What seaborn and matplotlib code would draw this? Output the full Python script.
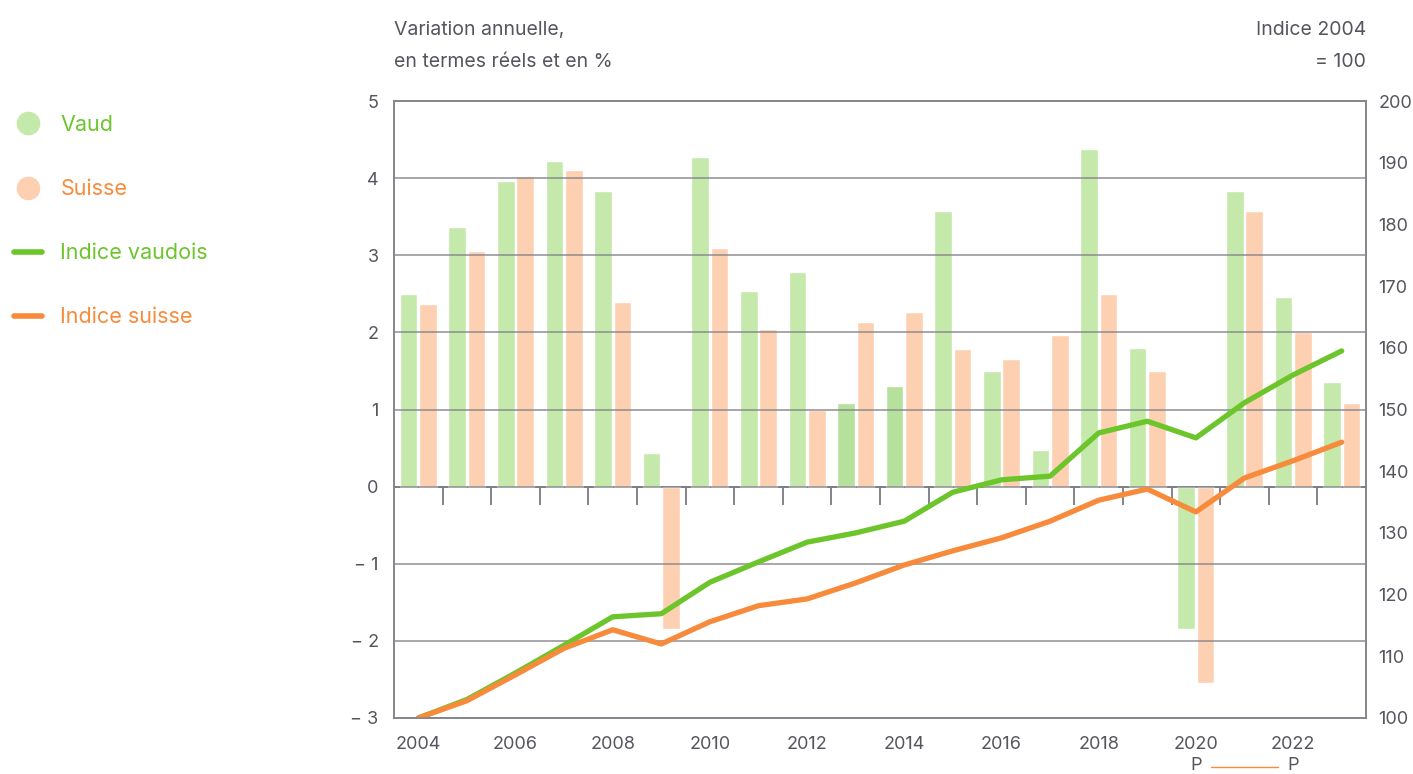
import numpy as np
import pandas as pd
import matplotlib
matplotlib.use("Agg")
import matplotlib.pyplot as plt
import matplotlib.transforms as mtransforms
from matplotlib.lines import Line2D
import seaborn as sns

# ---------------- data ----------------
years = list(range(2004, 2024))
vaud_var = [2.50, 3.36, 3.96, 4.22, 3.83, 0.44, 4.28, 2.53, 2.78, 1.08,
            1.30, 3.58, 1.50, 0.48, 4.38, 1.80, -1.85, 3.83, 2.46, 1.36]
suisse_var = [2.37, 3.06, 4.03, 4.11, 2.39, -1.85, 3.10, 2.05, 0.99, 2.14,
              2.26, 1.79, 1.66, 1.97, 2.50, 1.50, -2.55, 3.57, 2.00, 1.08]
vaud_idx = [100.0, 103.0, 107.3, 111.8, 116.4, 116.9, 122.0, 125.3, 128.5, 130.0,
            131.9, 136.6, 138.6, 139.2, 146.2, 148.1, 145.4, 151.1, 155.6, 159.5]
suisse_idx = [100.0, 102.8, 107.0, 111.3, 114.3, 112.0, 115.6, 118.2, 119.3, 121.9,
              124.8, 127.1, 129.2, 131.9, 135.3, 137.1, 133.4, 138.9, 141.7, 144.7]
highlight_years = [2013, 2014]
left_ticks = [-3, -2, -1, 0, 1, 2, 3, 4, 5]
left_labels = ["\u2212 3", "\u2212 2", "\u2212 1", "0", "1", "2", "3", "4", "5"]
right_ticks = list(range(100, 201, 10))
provisional = [2020, 2022]

# ---------------- style ----------------
sns.set_theme(style="white")
plt.rcParams["font.family"] = ["Inter", "DejaVu Sans"]

GREEN_BAR = "#c5e8ab"
GREEN_BAR_DK = "#b6e19c"
ORANGE_BAR = "#fdd0b2"
GREEN = "#6cc52b"
ORANGE = "#f78b3b"
TXT = "#55555e"
GRID = "#85858c"
TICK_FS = 13

W, H = 1413, 774
fig = plt.figure(figsize=(W / 100, H / 100), dpi=100)
ax = fig.add_axes([394 / W, 1 - 718 / H, (1366 - 394) / W, (718 - 101) / H])

df = pd.DataFrame({
    "Année": years + years,
    "Variation": vaud_var + suisse_var,
    "Région": ["Vaud"] * len(years) + ["Suisse"] * len(years),
})
sns.barplot(data=df, x="Année", y="Variation", hue="Région",
            hue_order=["Vaud", "Suisse"],
            palette={"Vaud": GREEN_BAR, "Suisse": ORANGE_BAR},
            saturation=1, width=0.8, gap=0.1, legend=False, ax=ax, zorder=1)
for yr, bar in zip(years, ax.containers[0]):
    if yr in highlight_years:
        bar.set_facecolor(GREEN_BAR_DK)

n = len(years)
pos = np.arange(n)
ax.set_xlim(-0.5, n - 0.5)
ax.set_ylim(-3, 5)
ax.set_yticks(left_ticks, left_labels)
ax.set_xticks(pos[::2], [str(y) for y in years[::2]])
ax.set_xlabel("")
ax.set_ylabel("")
ax.set_axisbelow(False)
ax.yaxis.grid(True, color=GRID, linewidth=1.2, alpha=0.85)
ax.tick_params(axis="both", length=0, labelsize=TICK_FS, labelcolor=TXT)
ax.tick_params(axis="y", pad=11)
ax.tick_params(axis="x", pad=13)
for s in ax.spines.values():
    s.set_color(GRID)
    s.set_linewidth(1.2)

# ticks at category boundaries below the zero line
sec = ax.secondary_xaxis(3 / 8)
sec.set_xticks(pos[:-1] + 0.5, [""] * (n - 1))
sec.tick_params(axis="x", direction="out", length=13, width=1.2, color="#6e6e76")
sec.spines["bottom"].set_color("#6e6e76")
sec.spines["bottom"].set_linewidth(1.4)

# index lines
ax2 = ax.twinx()
sns.lineplot(x=pos, y=vaud_idx, color=GREEN, linewidth=3.8, ax=ax2,
             solid_capstyle="round", solid_joinstyle="round")
sns.lineplot(x=pos, y=suisse_idx, color=ORANGE, linewidth=3.8, ax=ax2,
             solid_capstyle="round", solid_joinstyle="round")
ax2.set_ylim(100, 200)
ax2.set_yticks(right_ticks)
ax2.set_xlim(-0.5, n - 0.5)
ax2.tick_params(axis="y", length=0, labelsize=TICK_FS, labelcolor=TXT, pad=9)
ax2.grid(False)
for s in ax2.spines.values():
    s.set_color(GRID)
    s.set_linewidth(1.2)

# titles
fig.text(394 / W, 1 - 30 / H, "Variation annuelle,", fontsize=14, color=TXT, va="center", ha="left")
fig.text(394 / W, 1 - 62 / H, "en termes réels et en %", fontsize=14, color=TXT, va="center", ha="left")
fig.text(1366 / W, 1 - 30 / H, "Indice 2004", fontsize=14, color=TXT, va="center", ha="right")
fig.text(1366 / W, 1 - 62 / H, "= 100", fontsize=14, color=TXT, va="center", ha="right")

# provisional marks
bt = mtransforms.blended_transform_factory(ax.transData, fig.transFigure)
i0, i1 = years.index(provisional[0]), years.index(provisional[1])
for i in (i0, i1):
    ax.text(i, 1 - 765 / H, "P", transform=bt, fontsize=TICK_FS, color=TXT,
            ha="center", va="center", clip_on=False)
fig.add_artist(Line2D([i0 + 0.32, i1 - 0.32], [1 - 767 / H, 1 - 767 / H],
                      transform=bt, color=ORANGE, linewidth=1.0))

# legend
handles = [
    Line2D([], [], marker="o", linestyle="", markersize=16, color=GREEN_BAR),
    Line2D([], [], marker="o", linestyle="", markersize=16, color=ORANGE_BAR),
    Line2D([], [], color=GREEN, linewidth=4, solid_capstyle="round"),
    Line2D([], [], color=ORANGE, linewidth=4, solid_capstyle="round"),
]
labels = ["Vaud", "Suisse", "Indice vaudois", "Indice suisse"]
fig.legend(handles, labels, loc="upper left", bbox_to_anchor=(14 / W, 1 - 115 / H),
           frameon=False, fontsize=15.5, labelcolor=[GREEN, ORANGE, GREEN, ORANGE],
           handlelength=1.3, handletextpad=0.85, labelspacing=2.05,
           borderpad=0, borderaxespad=0)

fig.savefig("out.png", dpi=100)
